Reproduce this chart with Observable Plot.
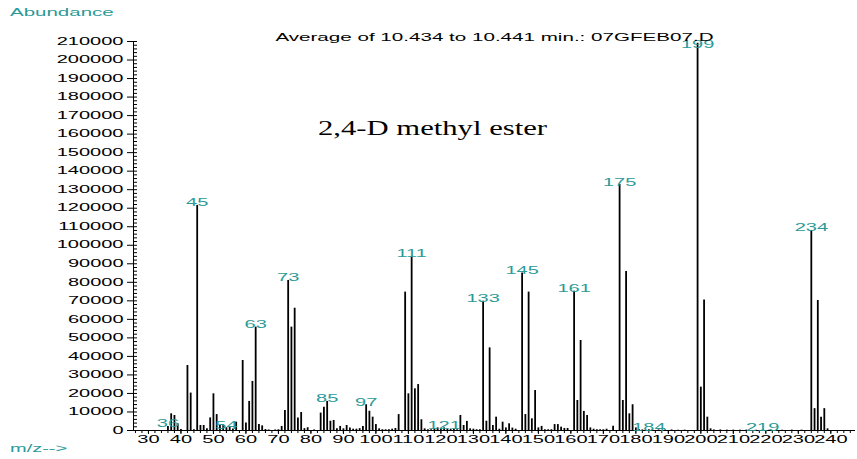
<!DOCTYPE html>
<html><head><meta charset="utf-8">
<script src="https://cdn.jsdelivr.net/npm/d3@7"></script>
<script src="https://cdn.jsdelivr.net/npm/@observablehq/plot@0.6"></script>
<style>
html,body{margin:0;padding:0;background:#fff;}
#chart{width:857px;height:459px;overflow:hidden;}
</style></head><body><div id="chart"></div>
<script>
// m/z values and their abundances
const mz = [36,37,38,39,40,42,43,44,45,46,47,48,49,50,51,52,53,54,55,56,57,59,60,61,62,63,64,65,66,67,69,70,71,72,73,74,75,76,77,78,79,81,83,84,85,86,87,88,89,90,91,92,93,94,95,96,97,98,99,100,101,102,103,104,105,106,107,109,110,111,112,113,114,115,116,117,118,119,120,121,122,123,124,125,126,127,128,129,130,131,132,133,134,135,136,137,138,139,140,141,142,143,145,146,147,148,149,150,151,152,153,154,155,156,157,158,159,161,162,163,164,165,166,167,168,169,170,171,173,175,176,177,178,179,180,181,182,184,185,187,189,191,193,195,199,200,201,202,203,204,206,208,210,212,214,217,219,221,225,228,231,234,235,236,237,238,239];
const abundance = [2200,9000,8100,3600,500,35100,20200,400,121500,2700,2700,1000,6800,19800,8600,2700,3000,1500,2200,800,4500,37800,4100,15700,26500,55800,3200,2500,500,300,300,400,2200,10800,81000,55800,66000,6700,9700,1000,1500,300,9400,12600,15700,5000,5400,900,2200,900,2700,1400,700,700,1000,2200,13900,10400,7200,3200,900,400,400,400,700,1100,8600,74700,19800,94000,22500,24800,5800,900,400,400,900,1400,700,1400,700,700,700,400,8100,2700,4900,900,700,400,400,69800,5000,44600,2700,7200,700,4500,1400,3600,1300,700,85000,8600,74700,6300,21600,1400,2200,400,400,400,3200,3200,1800,1100,1100,75200,16200,48600,10300,8100,1400,700,400,400,400,700,2300,132800,16200,85800,9000,13900,1400,400,300,400,300,300,300,300,200,200,209000,23400,70500,7200,900,300,300,200,200,200,200,200,300,200,200,200,200,108000,11800,70200,7200,11800,900];
const peakLabels = [36,45,54,63,73,85,97,111,121,133,145,161,175,184,199,219,234];
const yTicks = d3.range(0, 210001, 10000);
const yMinorTicks = d3.range(0, 210001, 2000);
const xTicks = d3.range(30, 241, 10);
const xMinorTicks = d3.range(26, 248, 2);
const titleText = "Average of 10.434 to 10.441 min.: 07GFEB07.D";
const compoundText = "2,4-D methyl ester";
const yLabelText = "Abundance";
const xLabelText = "m/z-->";

const teal = "#2b9a98";
const xDomain = [25.4, 247.6];
const yMax = 210000;
const data = mz.map((m, i) => ({mz: m, ab: abundance[i]}));
// peak labels sit on top of their bar (kept just inside the top of the frame)
const labelData = peakLabels.map(m => ({mz: m, ab: Math.min((data.find(d => d.mz === m) || {ab: 0}).ab, yMax * 0.986)}));

const plot = Plot.plot({
  width: 857, height: 459,
  marginLeft: 133, marginRight: 2, marginTop: 41, marginBottom: 29,
  style: {fontFamily: "'Liberation Sans', Arial, sans-serif", fontSize: "10px", background: "#fff", color: "#000"},
  x: {domain: xDomain, axis: null},
  y: {domain: [0, yMax], axis: null},
  marks: [
    Plot.axisY({ticks: yMinorTicks, tickSize: 4, text: null, label: null, dx: 4, anchor: "left"}),
    Plot.axisY({ticks: yTicks, tickSize: 6, tickPadding: 4, tickFormat: d => String(d), anchor: "left", label: null, fill: "#000"}),
    Plot.axisX({ticks: xMinorTicks, tickSize: 3, text: null, label: null, anchor: "bottom"}),
    Plot.axisX({ticks: xTicks, tickSize: 4, tickPadding: 1, tickFormat: d => String(d), anchor: "bottom", label: null, fill: "#000"}),
    Plot.ruleX(data, {x: "mz", y1: 0, y2: "ab", stroke: "#000", strokeWidth: 1.8}),
    Plot.ruleY([0], {stroke: "#000"}),
    Plot.ruleX([xDomain[0]], {y1: 0, y2: yMax, stroke: "#000"}),
    Plot.text(labelData, {x: "mz", y: "ab", text: d => String(d.mz), fill: teal, lineAnchor: "bottom", dy: 1, fontSize: 10})
  ]
});
document.getElementById("chart").appendChild(plot);
const svg = d3.select(plot);
// stretch all the Arial-like text horizontally (the reference uses a wide face)
function stretch(sel, k) {
  sel.each(function() {
    const w = this.getComputedTextLength();
    if (w > 0) {
      this.setAttribute("textLength", (w * k).toFixed(1));
      this.setAttribute("lengthAdjust", "spacingAndGlyphs");
    }
  });
}
stretch(svg.selectAll("text"), 2);
const t1 = svg.append("text").attr("x", 494.5).attr("y", 40.5).attr("text-anchor", "middle")
  .attr("font-size", 10).attr("fill", "#000").text(titleText);
const t2 = svg.append("text").attr("x", 10).attr("y", 15.5).attr("text-anchor", "start")
  .attr("font-size", 10).attr("fill", teal).text(yLabelText);
const t3 = svg.append("text").attr("x", 10).attr("y", 452).attr("text-anchor", "start")
  .attr("font-size", 10).attr("fill", teal).text(xLabelText);
stretch(t1, 2.06); stretch(t2, 2.05); stretch(t3, 2);
const comp = svg.append("text").attr("x", 318).attr("y", 135).attr("text-anchor", "start")
  .attr("font-family", "'Liberation Serif', 'Times New Roman', serif").attr("font-size", 20)
  .attr("fill", "#000").text(compoundText);
comp.attr("textLength", 229).attr("lengthAdjust", "spacingAndGlyphs");
</script>
</body></html>
